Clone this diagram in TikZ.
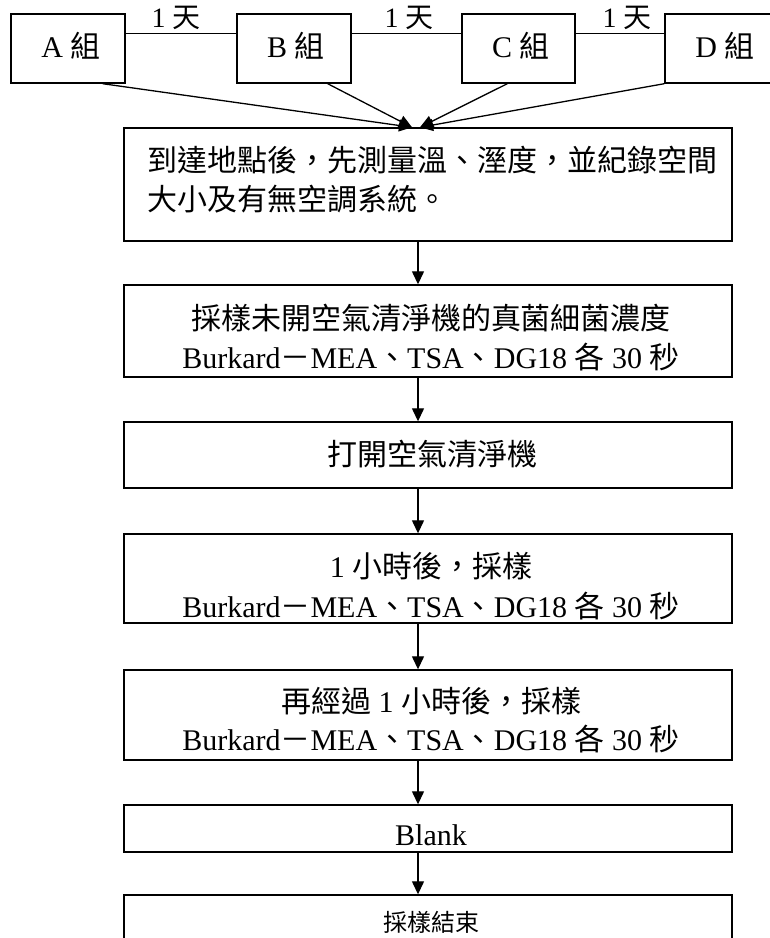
\documentclass[tikz,border=0pt]{standalone}
\usepackage{fontspec}
\setmainfont{Liberation Serif}
\newfontfamily\cjk{Noto Sans CJK TC}
\newcommand\zh[1]{{\cjk #1}}
\usetikzlibrary{arrows.meta}
\begin{document}
\begin{tikzpicture}[x=1pt,y=-1pt,
  box/.style={draw, line width=1.4pt, rectangle, inner sep=0pt, minimum width=608pt},
  grp/.style={draw, line width=1.4pt, rectangle, inner sep=0pt, minimum width=114pt, minimum height=69pt},
  txt/.style={inner sep=0pt, anchor=base, font=\fontsize{30}{36}\selectfont},
  lbl/.style={inner sep=0pt, anchor=base, font=\fontsize{28}{34}\selectfont},
  link/.style={line width=1.3pt},
  arr/.style={line width=1.3pt, -{Triangle[length=13pt,width=12pt]}}]
\useasboundingbox (0,0) rectangle (770,938);
\clip (0,0) rectangle (770,938);
\fill[white] (0,0) rectangle (770,938);

% group boxes
\node[grp] (A) at (68,48.5) {};
\node[grp] (B) at (294,48.5) {};
\node[grp, minimum width=113pt] (C) at (518.5,48.5) {};
\node[grp] (D) at (722,48.5) {};
\node[txt] (tA) at (71,57) {A \zh{組}};
\node[txt] (tB) at (296,57) {B \zh{組}};
\node[txt] (tC) at (521,57) {C \zh{組}};
\node[txt] (tD) at (725,57) {D \zh{組}};

% links between groups
\draw[link] ([yshift=-20pt]A.north east) -- ([yshift=-20pt]B.north west);
\draw[link] ([yshift=-20pt]B.north east) -- ([yshift=-20pt]C.north west);
\draw[link] ([yshift=-20pt]C.north east) -- ([yshift=-20pt]D.north west);
\node[lbl] (l1) at (176,27) {1 \zh{天}};
\node[lbl] (l2) at (409,27) {1 \zh{天}};
\node[lbl] (l3) at (627,27) {1 \zh{天}};

% flow boxes
\node[box, minimum height=113pt] (b1) at (428,184.5) {};
\node[box, minimum height=92pt] (b2) at (428,331) {};
\node[box, minimum height=66pt] (b3) at (428,455) {};
\node[box, minimum height=89pt] (b4) at (428,578.5) {};
\node[box, minimum height=90pt] (b5) at (428,715) {};
\node[box, minimum height=47pt] (b6) at (428,828.5) {};
\node[box, minimum height=95pt] (b7) at (428,942.5) {};

% converging arrows
\draw[arr] ([xshift=-23pt]A.south east) -- ([xshift=-16pt]b1.north);
\draw[arr] ([xshift=-24pt]B.south east) -- ([xshift=-16pt]b1.north);
\draw[arr] ([xshift=46pt]C.south west) -- ([xshift=-8pt]b1.north);
\draw[arr] (D.south west) -- ([xshift=-8pt]b1.north);

% vertical arrows
\draw[arr] ([xshift=-10pt]b1.south) -- ([xshift=-10pt]b2.north);
\draw[arr] ([xshift=-10pt]b2.south) -- ([xshift=-10pt]b3.north);
\draw[arr] ([xshift=-10pt]b3.south) -- ([xshift=-10pt]b4.north);
\draw[arr] ([xshift=-10pt]b4.south) -- ([xshift=-10pt]b5.north);
\draw[arr] ([xshift=-10pt]b5.south) -- ([xshift=-10pt]b6.north);
\draw[arr] ([xshift=-10pt]b6.south) -- ([xshift=-10pt]b7.north);

% texts
\node[txt, anchor=base west] (t1a) at (147,171) {\zh{到達地點後，先測量溫、溼度，並紀錄空間}};
\node[txt, anchor=base west] (t1b) at (147,210) {\zh{大小及有無空調系統。}};
\node[txt] (t2a) at (431,329) {\zh{採樣未開空氣清淨機的真菌細菌濃度}};
\node[txt] (t2b) at (431,368) {Burkard\zh{－}MEA\zh{、}TSA\zh{、}DG18 \zh{各} 30 \zh{秒}};
\node[txt] (t3) at (432,465) {\zh{打開空氣清淨機}};
\node[txt] (t4a) at (431,577) {1 \zh{小時後，採樣}};
\node[txt] (t4b) at (431,617) {Burkard\zh{－}MEA\zh{、}TSA\zh{、}DG18 \zh{各} 30 \zh{秒}};
\node[txt] (t5a) at (431,712) {\zh{再經過} 1 \zh{小時後，採樣}};
\node[txt] (t5b) at (431,750) {Burkard\zh{－}MEA\zh{、}TSA\zh{、}DG18 \zh{各} 30 \zh{秒}};
\node[txt] (t6) at (431,845) {Blank};
\node[txt, font=\fontsize{24}{28}\selectfont] (t7) at (431,931) {\zh{採樣結束}};
\end{tikzpicture}
\end{document}
